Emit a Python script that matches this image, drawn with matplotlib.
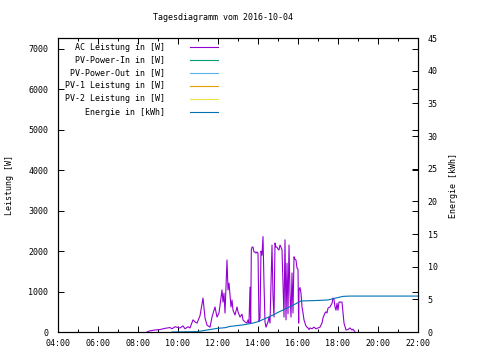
#!/usr/bin/env python

import matplotlib
matplotlib.use('Agg')
import matplotlib.pyplot as plt
from matplotlib.ticker import MultipleLocator, FuncFormatter

plt.rcParams['font.family'] = 'DejaVu Sans Mono'
plt.rcParams['font.size'] = 6

TITLE = 'Tagesdiagramm vom 2016-10-04'

# AC power [W] over the day
ac_time = [
    '08:27', '08:36', '08:51', '09:06', '09:21', '09:36', '09:42', '09:51',
    '10:06', '10:15', '10:21', '10:30', '10:36', '10:45', '10:51', '10:57',
    '11:06', '11:15', '11:21', '11:27', '11:36', '11:42', '11:51', '11:57',
    '12:03', '12:12', '12:15', '12:18', '12:21', '12:27', '12:30', '12:33',
    '12:39', '12:42', '12:45', '12:51', '12:57', '13:00', '13:06', '13:12',
    '13:15', '13:21', '13:27', '13:30', '13:33', '13:36', '13:38', '13:40',
    '13:42', '13:45', '13:48', '13:51', '13:54', '13:57', '14:00', '14:03',
    '14:06', '14:09', '14:12', '14:15', '14:18', '14:21', '14:24', '14:30',
    '14:33', '14:36', '14:42', '14:45', '14:48', '14:51', '14:54', '14:57',
    '15:00', '15:03', '15:06', '15:09', '15:12', '15:15', '15:18', '15:21',
    '15:24', '15:27', '15:30', '15:33', '15:36', '15:39', '15:42', '15:45',
    '15:48', '15:51', '15:54', '15:57', '16:00', '16:02', '16:03', '16:06',
    '16:09', '16:12', '16:15', '16:18', '16:21', '16:24', '16:27', '16:30',
    '16:33', '16:36', '16:42', '16:48', '16:54', '17:00', '17:06', '17:12',
    '17:15', '17:21', '17:24', '17:27', '17:30', '17:36', '17:42', '17:45',
    '17:48', '17:51', '17:54', '17:57', '18:00', '18:03', '18:12', '18:15',
    '18:18', '18:24', '18:30', '18:36', '18:42', '18:45', '18:51',
]
ac_power = [
    0, 30, 50, 60, 90, 110, 80, 130,
    100, 150, 80, 130, 100, 300, 250, 220,
    400, 840, 350, 170, 120, 370, 620, 370,
    470, 1040, 740, 960, 470, 1780, 1040, 1210,
    620, 790, 540, 420, 620, 500, 370, 440,
    300, 250, 220, 300, 220, 1110, 220, 2030,
    2100, 2100, 1980, 1980, 1950, 1980, 1950, 260,
    350, 2000, 1900, 2360, 1200, 250, 120, 250,
    370, 220, 2150, 900, 370, 2200, 2100, 2100,
    2050, 2030, 2150, 2100, 2030, 1210, 370, 2280,
    300, 1700, 450, 2150, 960, 370, 1460, 470,
    1860, 1800, 1780, 1580, 1550, 220, 1040, 1100,
    960, 620, 470, 300, 220, 150, 120, 100,
    60, 100, 80, 120, 80, 100, 120, 220,
    350, 470, 500, 470, 590, 620, 710, 840,
    800, 620, 540, 710, 540, 740, 740, 470,
    220, 50, 60, 100, 50, 70, 0,
]

# cumulative energy [kWh]
en_time = ['09:42', '10:57', '11:27', '11:57', '12:21', '12:36', '13:12', '13:42',
           '14:00', '14:30', '14:45', '15:00', '15:15', '15:45', '16:09', '16:45',
           '17:30', '17:45', '18:15', '18:36', '22:00']
en_kwh = [0, 0.05, 0.3, 0.55, 0.66, 0.85, 1.07, 1.33,
          1.58, 2.25, 2.6, 3.0, 3.37, 4.1, 4.75, 4.8,
          4.9, 5.1, 5.45, 5.5, 5.5]

# series without data on this day (legend only)
pv_in_time, pv_in_power = [], []
pv_out_time, pv_out_power = [], []
pv1_time, pv1_power = [], []
pv2_time, pv2_power = [], []

labels = ['AC Leistung in [W]', 'PV-Power-In in [W]', 'PV-Power-Out in [W]',
          'PV-1 Leistung in [W]', 'PV-2 Leistung in [W]', 'Energie in [kWh]']
colors = ['#9400D3', '#009E73', '#56B4E9', '#E69F00', '#F0E442', '#0072B2']


def hours(ts):
    return [int(t[:2]) + int(t[3:]) / 60.0 for t in ts]


fig = plt.figure(figsize=(4.8, 3.6), dpi=100)
ax = fig.add_axes([58 / 480, 28 / 360, 360 / 480, 294 / 360])
ax2 = ax.twinx()

lines = []
lines += ax.plot(hours(ac_time), ac_power, color=colors[0], lw=0.8)
lines += ax.plot(hours(pv_in_time), pv_in_power, color=colors[1], lw=0.8)
lines += ax.plot(hours(pv_out_time), pv_out_power, color=colors[2], lw=0.8)
lines += ax.plot(hours(pv1_time), pv1_power, color=colors[3], lw=0.8)
lines += ax.plot(hours(pv2_time), pv2_power, color=colors[4], lw=0.8)
lines += ax2.plot(hours(en_time), en_kwh, color=colors[5], lw=0.8)

ax.set_xlim(4, 22)
ax.set_ylim(0, 7272)
ax2.set_ylim(0, 45)

ax.xaxis.set_major_locator(MultipleLocator(2))
ax.xaxis.set_minor_locator(MultipleLocator(1))
ax.xaxis.set_major_formatter(FuncFormatter(lambda v, p: '%02d:00' % int(round(v))))
ax.yaxis.set_major_locator(MultipleLocator(1000))
ax2.yaxis.set_major_locator(MultipleLocator(5))

ax.tick_params(which='both', direction='in', top=True, right=True, width=0.7)
ax.tick_params(which='major', length=4)
ax.tick_params(which='minor', length=2.5)
ax.tick_params(axis='y', pad=7)
ax.tick_params(axis='x', pad=5)
ax2.tick_params(direction='in', length=4, width=0.7, pad=7)
for a in (ax, ax2):
    for s in a.spines.values():
        s.set_linewidth(0.8)

ax.set_ylabel('Leistung [W]')
ax.yaxis.set_label_coords(-0.122, 0.5)
ax2.set_ylabel('Energie [kWh]')
ax2.yaxis.set_label_coords(1.085, 0.5)

fig.text(223 / 480, 1 - 18 / 360, TITLE, ha='center', va='center')

# gnuplot style key: right aligned text, sample line to the right
row_y = [0.969, 0.925, 0.881, 0.837, 0.793, 0.748]
for lab, ln, yy in zip(labels, lines, row_y):
    ax.text(0.297, yy, lab, transform=ax.transAxes, ha='right', va='center')
    ax.plot([0.367, 0.444], [yy, yy], transform=ax.transAxes,
            color=ln.get_color(), lw=0.8, clip_on=False)

fig.savefig('out.png', dpi=100)
